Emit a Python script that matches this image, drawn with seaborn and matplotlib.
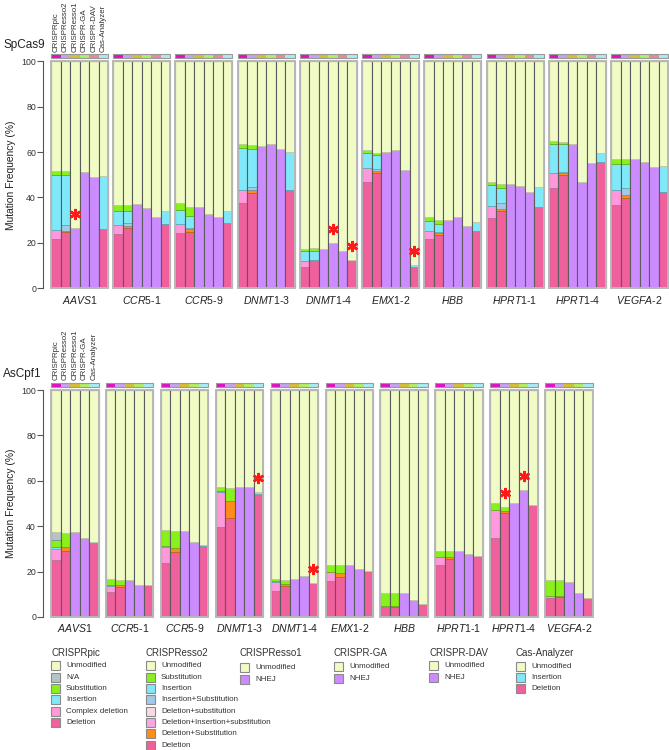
import numpy as np
import matplotlib
matplotlib.use("Agg")
import matplotlib.pyplot as plt
import seaborn as sns
from matplotlib.patches import Rectangle

genes = ["AAVS1", "CCR5-1", "CCR5-9", "DNMT1-3", "DNMT1-4",
         "EMX1-2", "HBB", "HPRT1-1", "HPRT1-4", "VEGFA-2"]
gene_labels = [r"$\mathit{AAVS1}$", r"$\mathit{CCR5}$-1", r"$\mathit{CCR5}$-9",
               r"$\mathit{DNMT1}$-3", r"$\mathit{DNMT1}$-4", r"$\mathit{EMX1}$-2",
               r"$\mathit{HBB}$", r"$\mathit{HPRT1}$-1", r"$\mathit{HPRT1}$-4",
               r"$\mathit{VEGFA}$-2"]

# ---- SpCas9 (segment heights, %; unmodified = rest up to 100)
sp_pic_del = [21.5, 23.9, 24.4, 37.4, 9.5, 47.0, 21.5, 30.8, 44.0, 36.7]
sp_pic_cx = [4.0, 3.9, 4.1, 5.7, 2.5, 5.9, 3.7, 5.3, 6.6, 6.4]
sp_pic_ins = [24.6, 6.3, 5.9, 18.6, 4.3, 6.9, 4.3, 9.3, 12.8, 11.5]
sp_pic_sub = [1.6, 2.6, 3.2, 1.7, 1.0, 1.0, 1.8, 1.3, 1.5, 2.2]

sp_r2_del = [24.6, 26.7, 24.7, 41.8, 12.3, 50.6, 23.3, 34.1, 49.9, 39.6]
sp_r2_delsub = [0.7, 0.8, 1.3, 1.5, 0.3, 0.9, 0.9, 1.0, 0.7, 1.3]
sp_r2_inssub = [2.5, 1.1, 0.7, 1.5, 0.0, 0.9, 0.7, 2.6, 0.5, 3.4]
sp_r2_ins = [22.1, 5.6, 5.3, 16.6, 4.0, 6.3, 3.4, 6.5, 12.3, 10.3]
sp_r2_sub = [1.8, 2.7, 3.7, 1.7, 1.2, 1.1, 1.8, 1.6, 1.0, 2.4]

sp_r1_nhej = [26.4, 37.0, 35.8, 62.8, 17.2, 59.9, 30.2, 45.9, 63.4, 56.8]
sp_ga_nhej = [51.4, 35.2, 32.9, 63.4, 19.9, 60.9, 31.3, 45.1, 46.7, 55.6]
sp_dav_nhej = [48.9, 31.4, 31.4, 61.2, 16.3, 52.1, 27.4, 42.3, 55.0, 53.6]
sp_cas_del = [26.0, 28.2, 28.6, 43.1, 12.0, 9.2, 25.2, 36.0, 55.8, 42.6]
sp_cas_ins = [23.3, 5.9, 5.5, 17.0, 0.5, 0.9, 3.8, 8.5, 3.6, 11.1]

sp_stars = [("AAVS1", "CRISPResso1"), ("DNMT1-4", "CRISPR-GA"),
            ("DNMT1-4", "Cas-Analyzer"), ("EMX1-2", "Cas-Analyzer")]

# ---- AsCpf1
as_pic_del = [25.0, 11.2, 23.6, 39.8, 11.3, 15.7, 4.5, 22.8, 34.7, 8.5]
as_pic_cx = [4.8, 2.6, 7.1, 15.1, 4.0, 4.3, 0.5, 3.8, 12.4, 0.8]
as_pic_ins = [1.1, 0.4, 0.7, 0.5, 0.4, 0.0, 0.0, 0.0, 0.0, 0.0]
as_pic_sub = [3.2, 2.4, 6.8, 1.9, 1.0, 2.9, 5.4, 2.5, 3.0, 7.0]
as_pic_na = [3.5, 0, 0, 0, 0, 0, 0, 0, 0, 0]

as_r2_del = [29.1, 13.2, 28.5, 43.5, 13.5, 17.8, 4.5, 25.4, 46.0, 9.0]
as_r2_delsub = [1.9, 0.9, 1.7, 7.8, 1.2, 1.7, 0.5, 1.2, 0.5, 0.3]
as_r2_sub = [5.9, 2.3, 7.8, 5.5, 1.6, 3.4, 5.4, 2.5, 1.8, 7.0]

as_r1_nhej = [37.4, 16.3, 37.9, 57.1, 16.9, 22.9, 10.4, 29.1, 50.1, 15.4]
as_ga_nhej = [34.7, 14.0, 33.2, 57.3, 17.9, 21.3, 7.6, 27.6, 55.9, 10.4]
as_cas_del = [32.5, 14.0, 31.4, 54.4, 14.8, 20.3, 5.7, 26.9, 49.3, 8.2]
as_cas_ins = [0.7, 0.2, 0.3, 0.5, 0, 0, 0, 0, 0, 0]

as_stars = [("DNMT1-3", "Cas-Analyzer"), ("DNMT1-4", "Cas-Analyzer"),
            ("HPRT1-4", "CRISPResso2"), ("HPRT1-4", "CRISPR-GA")]

colors = {
    "Unmodified": "#f0fbc6",
    "N/A": "#b4c3c7",
    "Substitution": "#88f01c",
    "Insertion": "#80e9f9",
    "Complex deletion": "#ff99dc",
    "Deletion": "#f0609c",
    "Insertion+Substitution": "#a2c9e8",
    "Deletion+substitution": "#f9d9e8",
    "Deletion+Insertion+substitution": "#f7a9e1",
    "Deletion+Substitution": "#ff8c1a",
    "NHEJ": "#cc8cff",
}
tool_colors = {"CRISPRpic": "#e010c4", "CRISPResso2": "#c6a2ef",
               "CRISPResso1": "#d6bf32", "CRISPR-GA": "#b2ef62",
               "CRISPR-DAV": "#e68a9c", "Cas-Analyzer": "#a6edf2"}

sp_stacks = {
    "CRISPRpic": [("Deletion", sp_pic_del), ("Complex deletion", sp_pic_cx),
                  ("Insertion", sp_pic_ins), ("Substitution", sp_pic_sub)],
    "CRISPResso2": [("Deletion", sp_r2_del), ("Deletion+Substitution", sp_r2_delsub),
                    ("Insertion+Substitution", sp_r2_inssub), ("Insertion", sp_r2_ins),
                    ("Substitution", sp_r2_sub)],
    "CRISPResso1": [("NHEJ", sp_r1_nhej)],
    "CRISPR-GA": [("NHEJ", sp_ga_nhej)],
    "CRISPR-DAV": [("NHEJ", sp_dav_nhej)],
    "Cas-Analyzer": [("Deletion", sp_cas_del), ("Insertion", sp_cas_ins)],
}
as_stacks = {
    "CRISPRpic": [("Deletion", as_pic_del), ("Complex deletion", as_pic_cx),
                  ("Insertion", as_pic_ins), ("Substitution", as_pic_sub),
                  ("N/A", as_pic_na)],
    "CRISPResso2": [("Deletion", as_r2_del), ("Deletion+Substitution", as_r2_delsub),
                    ("Substitution", as_r2_sub)],
    "CRISPResso1": [("NHEJ", as_r1_nhej)],
    "CRISPR-GA": [("NHEJ", as_ga_nhej)],
    "Cas-Analyzer": [("Deletion", as_cas_del), ("Insertion", as_cas_ins)],
}

legend_items = {
    "CRISPRpic": ["Unmodified", "N/A", "Substitution", "Insertion",
                  "Complex deletion", "Deletion"],
    "CRISPResso2": ["Unmodified", "Substitution", "Insertion", "Insertion+Substitution",
                    "Deletion+substitution", "Deletion+Insertion+substitution",
                    "Deletion+Substitution", "Deletion"],
    "CRISPResso1": ["Unmodified", "NHEJ"],
    "CRISPR-GA": ["Unmodified", "NHEJ"],
    "CRISPR-DAV": ["Unmodified", "NHEJ"],
    "Cas-Analyzer": ["Unmodified", "Insertion", "Deletion"],
}

sns.set_theme(style="ticks")
plt.rcParams["font.family"] = ["Liberation Sans", "DejaVu Sans"]
plt.rcParams["mathtext.fontset"] = "custom"
plt.rcParams["mathtext.it"] = "Liberation Sans:italic"
plt.rcParams["mathtext.rm"] = "Liberation Sans"

W, H = 669, 750
PX = 9.5  # pixels per bar
fig = plt.figure(figsize=(W / 100, H / 100), dpi=100)


def darker(c, f=0.7):
    r, g, b = matplotlib.colors.to_rgb(c)
    return (r * f, g * f, b * f)


def draw_panel(ax, stacks, stars, gap, title):
    tools = list(stacks)
    n = len(tools)
    step = n + gap
    for g, gene in enumerate(genes):
        x0 = g * step
        for t, tool in enumerate(tools):
            x = x0 + t
            bottom = 0
            for cat, vals in stacks[tool]:
                h = vals[g]
                if h > 0:
                    ax.bar(x, h, width=1, bottom=bottom, align="edge",
                           color=colors[cat], edgecolor=darker(colors[cat]), lw=0.5)
                bottom += h
            ax.bar(x, 100 - bottom, width=1, bottom=bottom, align="edge",
                   color=colors["Unmodified"], edgecolor=darker(colors["Unmodified"], 0.8), lw=0.5)
            ax.add_patch(Rectangle((x, 0), 1, 100, fill=False, ec="#5c5c5c", lw=0.8))
            ax.add_patch(Rectangle((x, 101.4), 1, 1.8, fc=tool_colors[tool],
                                   ec="none", clip_on=False))
            if (gene, tool) in stars:
                ax.plot(x + 0.5, bottom + 6.3, marker=(6, 2, 0), ms=8, mew=1.8,
                        color="#ff1a1a", clip_on=False, zorder=5)
            if g == 0:
                ax.text(x + 0.5, 104.3, tool, rotation=90, ha="center", va="bottom",
                        fontsize=5.7, color="#333333")
        ax.add_patch(Rectangle((x0, 0), n, 100, fill=False, ec="#b8b8b8", lw=1.4,
                               clip_on=False))
        ax.add_patch(Rectangle((x0, 101.4), n, 1.8, fill=False, ec="#9a9a9a", lw=0.8,
                               clip_on=False))
        ax.text(x0 + n / 2, -5, gene_labels[g], ha="center", va="center",
                fontsize=7.6, color="#222222")
    ax.set_xlim(0, 9 * step + n)
    ax.set_ylim(0, 100)
    ax.set_yticks([0, 20, 40, 60, 80, 100])
    ax.tick_params(axis="y", labelsize=6.3, length=4, width=0.8, color="#555555",
                   labelcolor="#333333", pad=1)
    ax.set_xticks([])
    sns.despine(ax=ax, bottom=True)
    ax.spines["left"].set_position(("outward", 5.8))
    ax.spines["left"].set_color("#555555")
    ax.spines["left"].set_linewidth(0.8)
    ax.set_ylabel("Mutation Frequency (%)", fontsize=7.4, color="#222222", labelpad=4)
    ax.patch.set_alpha(0)
    return step


# top panel
top_units = 9 * 6.55 + 6
ax1 = fig.add_axes([51 / W, (H - 288.3) / H, top_units * PX / W, 227 / H])
draw_panel(ax1, sp_stacks, sp_stars, 0.55, "SpCas9")

bot_units = 9 * 5.78 + 5
ax2 = fig.add_axes([51 / W, (H - 617) / H, bot_units * PX / W, 227 / H])
draw_panel(ax2, as_stacks, as_stars, 0.78, "AsCpf1")

fig.text(3 / W, 1 - 45 / H, "SpCas9", fontsize=8.5, va="center", color="#222222")
fig.text(3 / W, 1 - 374 / H, "AsCpf1", fontsize=8.5, va="center", color="#222222")

# legends
legend_x = {"CRISPRpic": 51, "CRISPResso2": 146, "CRISPResso1": 240,
            "CRISPR-GA": 334, "CRISPR-DAV": 429, "Cas-Analyzer": 516}
legend_y0 = {"CRISPRpic": 665.7, "CRISPResso2": 665.7, "CRISPResso1": 667.7,
             "CRISPR-GA": 666.7, "CRISPR-DAV": 665.7, "Cas-Analyzer": 666}
for name, items in legend_items.items():
    x = legend_x[name]
    fig.text(x / W, 1 - 653 / H, name, fontsize=7, va="center", color="#333333")
    for i, cat in enumerate(items):
        y = legend_y0[name] + i * 11.33
        fig.patches.append(Rectangle((x / W, 1 - (y + 4.5) / H), 9 / W, 9 / H,
                                     transform=fig.transFigure, fc=colors[cat],
                                     ec="#8a8a8a", lw=0.8))
        fig.text((x + 15) / W, 1 - y / H, cat, fontsize=5.8, va="center",
                 color="#333333")

fig.savefig("out.png", dpi=100)
